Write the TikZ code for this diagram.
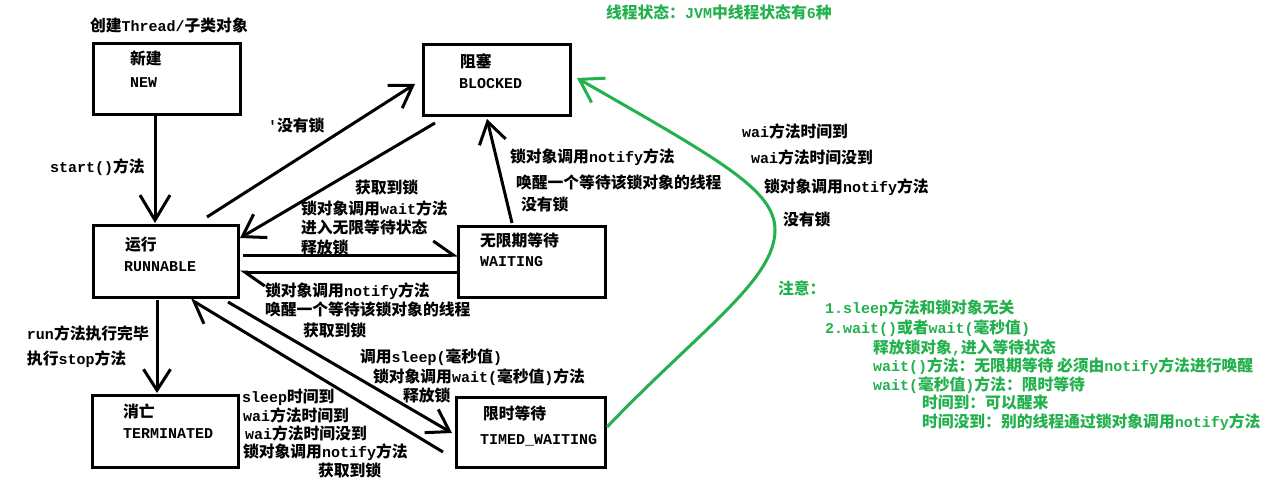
\documentclass[tikz,border=0pt]{standalone}
\usepackage{fontspec}
\newfontfamily\cjk{Noto Sans CJK SC}
\newfontfamily\lat{Liberation Mono}
\usetikzlibrary{arrows.meta,calc}
\definecolor{pgreen}{RGB}{34,177,76}
\newcommand\ml[1]{{\lat\bfseries\fontsize{15pt}{18pt}\selectfont #1}}
\tikzset{
 txt/.style={inner sep=0pt, outer sep=0pt, anchor=base west, font=\cjk\bfseries\fontsize{15.8pt}{18pt}\selectfont},
 gtxt/.style={txt, text=pgreen},
 box/.style={draw, line width=3pt, inner sep=0pt, outer sep=0pt},
 conn/.style={line width=3pt},
 tip/.style={conn, -{Straight Barb[length=21pt,width=27pt]}},
 bigtip/.style={conn, -{Straight Barb[length=25pt,width=30pt]}},
 halftip/.style={conn, -{Straight Barb[left,length=20pt,width=28pt]}},
 gconn/.style={line width=3pt, draw=pgreen, -{Straight Barb[length=22pt,width=28pt]}},
}
\begin{document}
\begin{tikzpicture}[x=1pt,y=-1pt]
\fill[white] (0,0) rectangle (1282,493);
\useasboundingbox (0,0) rectangle (1282,493);
% boxes
\node[box, minimum width=147pt, minimum height=71pt] (new) at (166.5,78.5) {};
\node[box, minimum width=147pt, minimum height=71pt] (blk) at (496.5,79.5) {};
\node[box, minimum width=145pt, minimum height=72pt] (run) at (165.5,261) {};
\node[box, minimum width=147pt, minimum height=71pt] (wait) at (531.5,261.5) {};
\node[box, minimum width=146pt, minimum height=72pt] (term) at (165,431) {};
\node[box, minimum width=149pt, minimum height=70pt] (timed) at (530.5,432) {};
% box texts
\node[txt] (new1) at (130,64) {新建};
\node[txt] (new2) at (130,87) {\ml{NEW}};
\node[txt] (blk1) at (460,67) {阻塞};
\node[txt] (blk2) at (459,88) {\ml{BLOCKED}};
\node[txt] (run1) at (125,250) {运行};
\node[txt] (run2) at (124,271) {\ml{RUNNABLE}};
\node[txt] (wait1) at (480,246) {无限期等待};
\node[txt] (wait2) at (480,266) {\ml{WAITING}};
\node[txt] (term1) at (123,417) {消亡};
\node[txt] (term2) at (123,438) {\ml{TERMINATED}};
\node[txt] (tw1) at (483,419) {限时等待};
\node[txt] (tw2) at (480,444) {\ml{TIMED\_WAITING}};
% labels
\node[txt] (l0) at (90,31) {创建\ml{Thread/}子类对象};
\node[txt] (l1) at (50,172) {\ml{start()}方法};
\node[txt] (l2) at (268,131) {\ml{'}没有锁};
\node[txt] (l3) at (355,193) {获取到锁};
\node[txt] (l4) at (301,214) {锁对象调用\ml{wait}方法};
\node[txt] (l5) at (301,233) {进入无限等待状态};
\node[txt] (l6) at (301,253) {释放锁};
\node[txt] (l7) at (510,162) {锁对象调用\ml{notify}方法};
\node[txt] (l8) at (516,188) {唤醒一个等待该锁对象的线程};
\node[txt] (l9) at (521,210) {没有锁};
\node[txt] (l10) at (265,296) {锁对象调用\ml{notify}方法};
\node[txt] (l11) at (265,315) {唤醒一个等待该锁对象的线程};
\node[txt] (l12) at (303,336) {获取到锁};
\node[txt] (l13) at (27,339) {\ml{run}方法执行完毕};
\node[txt] (l14) at (27,364) {执行\ml{stop}方法};
\node[txt] (l15) at (360,362) {调用\ml{sleep(}毫秒值\ml{)}};
\node[txt] (l16) at (373,382) {锁对象调用\ml{wait(}毫秒值\ml{)}方法};
\node[txt] (l17) at (403,401) {释放锁};
\node[txt] (l18) at (242,402) {\ml{sleep}时间到};
\node[txt] (l19) at (243,421) {\ml{wai}方法时间到};
\node[txt] (l20) at (245,439) {\ml{wai}方法时间没到};
\node[txt] (l21) at (243,457) {锁对象调用\ml{notify}方法};
\node[txt] (l22) at (318,476) {获取到锁};
\node[txt] (l23) at (742,137) {\ml{wai}方法时间到};
\node[txt] (l24) at (751,163) {\ml{wai}方法时间没到};
\node[txt] (l25) at (764,192) {锁对象调用\ml{notify}方法};
\node[txt] (l26) at (783,225) {没有锁};
% green texts
\node[gtxt] (g0) at (606,18) {线程状态：\ml{JVM}中线程状态有\ml{6}种};
\node[gtxt] (g1) at (778,294) {注意：};
\node[gtxt] (g2) at (825,313) {\ml{1.sleep}方法和锁对象无关};
\node[gtxt] (g3) at (825,333) {\ml{2.wait()}或者\ml{wait(}毫秒值\ml{)}};
\node[gtxt] (g4) at (873,353) {释放锁对象\ml{,}进入等待状态};
\node[gtxt] (g5) at (873,371) {\ml{wait()}方法：无限期等待 必须由\ml{notify}方法进行唤醒};
\node[gtxt] (g6) at (873,390) {\ml{wait(}毫秒值\ml{)}方法：限时等待};
\node[gtxt] (g7) at (922,408) {时间到：可以醒来};
\node[gtxt] (g8) at (922,427) {时间没到：别的线程通过锁对象调用\ml{notify}方法};
% connectors
\draw[bigtip] ($(new.south)+(-11.5,0)$) -- ($(run.north)+(-10.5,-2)$);
\draw[tip] ($(run.north east)+(-31,-8)$) -- ($(blk.west)+(-8,4.5)$);
\draw[tip] ($(blk.south west)+(12,8)$) -- ($(run.north east)+(2,13)$);
\draw[halftip] ($(run.east)+(5,-6)$) -- ($(wait.west)+(0,-6.5)$);
\draw[halftip] ($(wait.west)+(0,10.5)$) -- ($(run.east)+(2,11)$);
\draw[tip] ($(wait.north)+(-19.5,-3)$) -- ($(blk.south)+(-9.5,4)$);
\draw[tip] ($(run.south)+(-8.5,3)$) -- ($(term.north)+(-8,-2)$);
\draw[tip] ($(run.south east)+(-10,5)$) -- ($(timed.west)+(-4,1)$);
\draw[halftip] ($(timed.west)+(-13,20)$) -- ($(run.south)+(24.5,2)$);
\coordinate (gmid) at (775,230);
\draw[gconn] ($(timed.east)+(2,-5)$) .. controls (700,330) and (775,280) .. (gmid) .. controls (775,190) and (720,160) .. ($(blk.east)+(7,-1.5)$);
\end{tikzpicture}
\end{document}
